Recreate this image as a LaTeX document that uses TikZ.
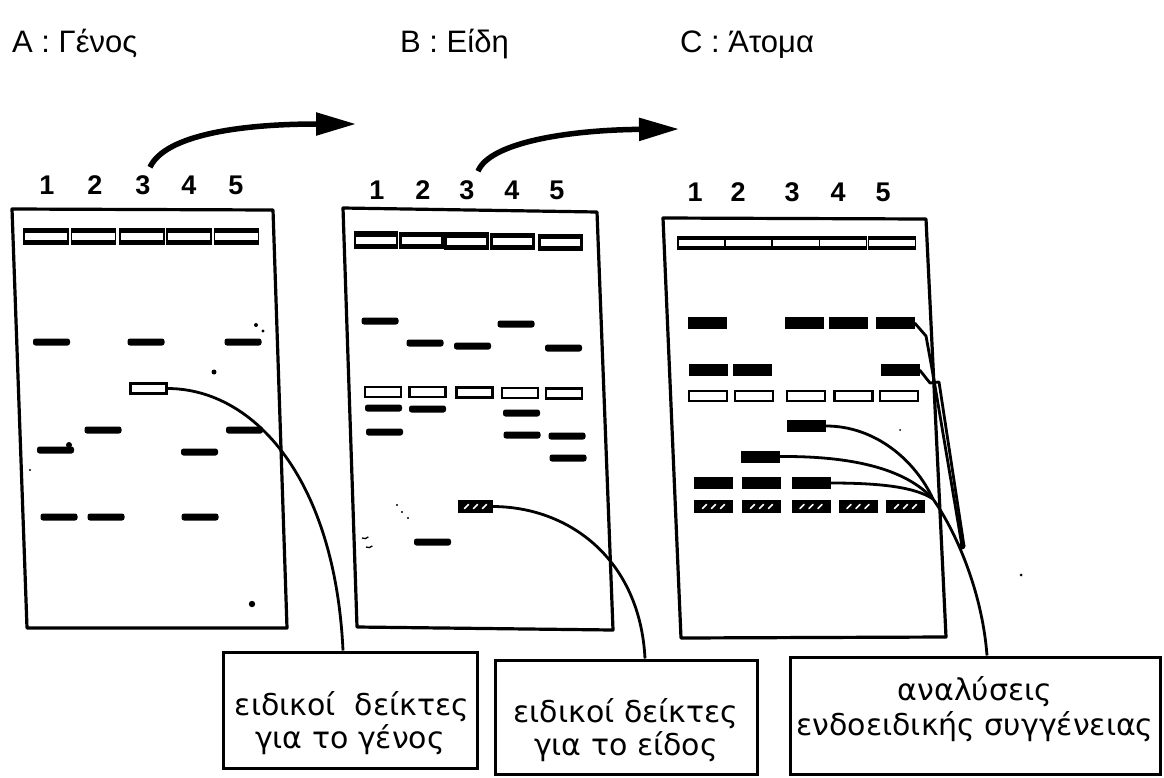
\documentclass[tikz,border=0pt]{standalone}
\usepackage{fontspec}
\setmainfont{DejaVu Sans}
\newfontfamily\headfont{Liberation Sans}
\usetikzlibrary{arrows.meta}

\begin{document}
\begin{tikzpicture}[x=1pt,y=-1pt,
  gel/.style={line width=3.2pt, line join=round},
  wellA/.style={rectangle, draw, line width=1.1pt, minimum width=44pt, minimum height=15pt, inner sep=0pt,
    path picture={\fill (path picture bounding box.north west) rectangle ([yshift=-4pt]path picture bounding box.north east);
                  \fill ([yshift=4pt]path picture bounding box.south west) rectangle (path picture bounding box.south east);}},
  wellB/.style={wellA, line width=2.6pt, minimum width=42pt, minimum height=15pt},
  wellC/.style={wellA, line width=1.4pt, minimum width=47pt, minimum height=12pt,
    path picture={\fill (path picture bounding box.north west) rectangle ([yshift=-3pt]path picture bounding box.north east);
                  \fill ([yshift=3pt]path picture bounding box.south west) rectangle (path picture bounding box.south east);}},
  band/.style={rectangle, fill, rounded corners=2.5pt, minimum width=37pt, minimum height=7pt, inner sep=0pt},
  openband/.style={rectangle, draw, fill=white, line width=2.8pt, minimum width=36pt, minimum height=10pt, inner sep=0pt},
  block/.style={rectangle, fill, minimum width=39pt, minimum height=12pt, inner sep=0pt},
  hatchband/.style={rectangle, fill, minimum width=39pt, minimum height=13pt, inner sep=0pt,
    path picture={\foreach \d in {-9,0,9}
      \draw[white, line width=1.7pt, line cap=round] ([xshift={(\d-2)*1pt}, yshift=-2pt]path picture bounding box.center) -- ++(4pt,4pt);}},
  lanenum/.style={font=\headfont\bfseries\fontsize{27}{30}\selectfont, inner sep=0pt},
  head/.style={font=\headfont\fontsize{31}{34}\selectfont, inner sep=0pt},
  labbox/.style={rectangle, draw, line width=3pt, inner sep=0pt},
  labtext/.style={font=\fontsize{30}{34}\selectfont, inner sep=0pt, anchor=base},
  conn/.style={line width=2.8pt},
  bigarrow/.style={line width=5.5pt, -{Triangle[length=40pt,width=22pt]}},
  speck/.style={fill}
]
\useasboundingbox (0,0) rectangle (1164,777);

% ---------- headings ----------
\node[head, anchor=base west] (hA) at (12,52) {A : Γένος};
\node[head, anchor=base west] (hB) at (400,52) {B : Είδη};
\node[head, anchor=base west] (hC) at (680,52) {C : Άτομα};

% ---------- gel outlines ----------
\draw[gel] (12,209) -- (273,210) -- (287,628) -- (27,628) -- cycle;
\draw[gel] (343,208) -- (597,212) -- (613,630) -- (357,627) -- cycle;
\draw[gel] (663,218) -- (926,219) -- (946,637) -- (681,638) -- cycle;

% ---------- lane numbers ----------
\foreach \n/\x in {1/47,2/95,3/143,4/189,5/236} \node[lanenum] (a\n num) at (\x,185) {\n};
\foreach \n/\x in {1/377,2/423,3/467,4/512,5/557} \node[lanenum] (b\n num) at (\x,190) {\n};
\foreach \n/\x in {1/695,2/738,3/792,4/838,5/883} \node[lanenum] (c\n num) at (\x,192) {\n};

% ---------- wells ----------
\foreach \n/\x in {1/46,2/93.5,3/142,4/189,5/236.5} \node[wellA] (aw\n) at (\x,236.5) {};
\foreach \n/\x/\y in {1/376/240,2/421.5/240.5,3/466.5/241,4/512.5/241.5,5/560.5/242.5} \node[wellB] (bw\n) at (\x,\y) {};
\foreach \n/\x in {1/701.5,2/748.5,3/796,4/843,5/892} \node[wellC] (cw\n) at (\x,243) {};

% ---------- gel A bands ----------
\node[band] (a1r1) at (51.5,342) {};
\node[band] (a3r1) at (146,342) {};
\node[band] (a5r1) at (243,342) {};
\node[openband] (a3open) at (148.5,388.5) {};
\node[band] (a2r2) at (103,430) {};
\node[band] (a5r2) at (244.5,430) {};
\node[band] (a1r3) at (55.5,450) {};
\node[band] (a4r3) at (199.5,452) {};
\node[band] (a1r4) at (59,517) {};
\node[band] (a2r4) at (106,517) {};
\node[band] (a4r4) at (200,517) {};
\fill (69,445) circle (3);
\fill[speck] (252,604) circle (3.2);
\fill[speck] (214,372) circle (2.5);
\fill[speck] (256,325) circle (2);
\fill[speck] (263,331) circle (1.6);
\fill[speck] (30,470) circle (1.2);

% ---------- gel B bands ----------
\node[band] (b1r1) at (380,321) {};
\node[band] (b4r1) at (516,324) {};
\node[band] (b2r2) at (425,343) {};
\node[band] (b3r2) at (472.5,346) {};
\node[band] (b5r2) at (563.5,348) {};
\foreach \n/\x/\y in {1/383/392,2/427.5/392,3/474.5/392.5,4/520/393,5/564/393.5} \node[openband] (bo\n) at (\x,\y) {};
\node[band] (b1r3) at (383.5,408) {};
\node[band] (b2r3) at (427.5,409) {};
\node[band] (b4r3) at (521.5,413) {};
\node[band] (b1r4) at (384.5,432) {};
\node[band] (b4r4) at (522,435) {};
\node[band] (b5r4) at (567,436) {};
\node[band] (b5r5) at (568,458) {};
\node[hatchband, minimum width=35pt] (b3h) at (475.5,506.5) {};
\node[band] (b2r6) at (432.5,542) {};
\fill[speck] (397,505) circle (1.1);
\fill[speck] (402,512) circle (1.1);
\fill[speck] (408,518) circle (1.1);
\draw[line width=1.3pt] (362,538) arc (120:40:5);
\draw[line width=1.3pt] (366,547) arc (120:40:5);

% ---------- gel C bands ----------
\node[block] (c1r1) at (707.5,323) {};
\node[block] (c3r1) at (804,323) {};
\node[block] (c4r1) at (848.5,323) {};
\node[block] (c5r1) at (895,323) {};
\node[block] (c1r2) at (708.5,370) {};
\node[block] (c2r2) at (752.5,370) {};
\node[block] (c5r2) at (900,370) {};
\foreach \n/\x in {1/708,2/754,3/806,4/853.5,5/899} \node[openband, line width=2.2pt, minimum width=38pt] (co\n) at (\x,396) {};
\node[block] (c3r3) at (806.5,426) {};
\node[block] (c2r4) at (760.5,456.5) {};
\node[block] (c1r5) at (713,483) {};
\node[block] (c2r5) at (761,483) {};
\node[block] (c3r5) at (811,483) {};
\foreach \n/\x in {1/713.5,2/761.5,3/811,4/858,5/905.5} \node[hatchband] (ch\n) at (\x,506.5) {};
\fill[speck] (1021,575) circle (1.5);
\fill[speck] (900,430) circle (1);

% ---------- label boxes ----------
\node[labbox, minimum width=254pt, minimum height=116pt] (lab1) at (350,710) {};
\node[labbox, minimum width=262pt, minimum height=114pt] (lab2) at (626,717) {};
\node[labbox, minimum width=370pt, minimum height=117pt] (lab3) at (975,715.5) {};

\node[labtext] (t1a) at (352,715) {ειδικοί\ \ δείκτες};
\node[labtext] (t1b) at (350,748) {για το γένος};
\node[labtext] (t2a) at (626,722) {ειδικοί δείκτες};
\node[labtext] (t2b) at (626,755) {για το είδος};
\node[labtext] (t3a) at (975,700) {αναλύσεις};
\node[labtext] (t3b) at (975,735) {ενδοειδικής συγγένειας};

% ---------- connectors from marker bands to label boxes ----------
\draw[conn] (a3open.east) .. controls (255,389) and (335,480) .. ([xshift=-7pt]lab1.north);
\draw[conn] (b3h.east) .. controls (570,507) and (640,560) .. ([xshift=19pt]lab2.north);

\coordinate (cj) at (933,499);
\coordinate (m5) at (962,546);
\draw[conn] (c3r3.east) .. controls (875,426) and (915,460) .. (cj);
\draw[conn] (c2r4.east) .. controls (850,456) and (905,468) .. (cj);
\draw[conn] (c3r5.east) .. controls (880,483) and (915,487) .. (cj);
\draw[conn] (cj) .. controls (955,530) and (982,590) .. ([xshift=12pt]lab3.north);
\draw[conn, line join=round] (c5r1.east) -- (926,336) -- (934,380) -- (m5);
\draw[conn, line join=round] (c5r2.east) -- (930,383) -- (939,382) -- ([xshift=2pt]m5);
\fill (m5) circle (3.5);

% ---------- arrows between gels ----------
\coordinate (arrA) at (356,124);
\coordinate (arrB) at (679,129);
\draw[bigarrow] ([shift={(7pt,8pt)}]a3num.north) .. controls (165,135) and (240,124) .. (arrA);
\draw[bigarrow] ([shift={(11pt,9pt)}]b3num.north) .. controls (490,142) and (570,130) .. (arrB);
\end{tikzpicture}
\end{document}
